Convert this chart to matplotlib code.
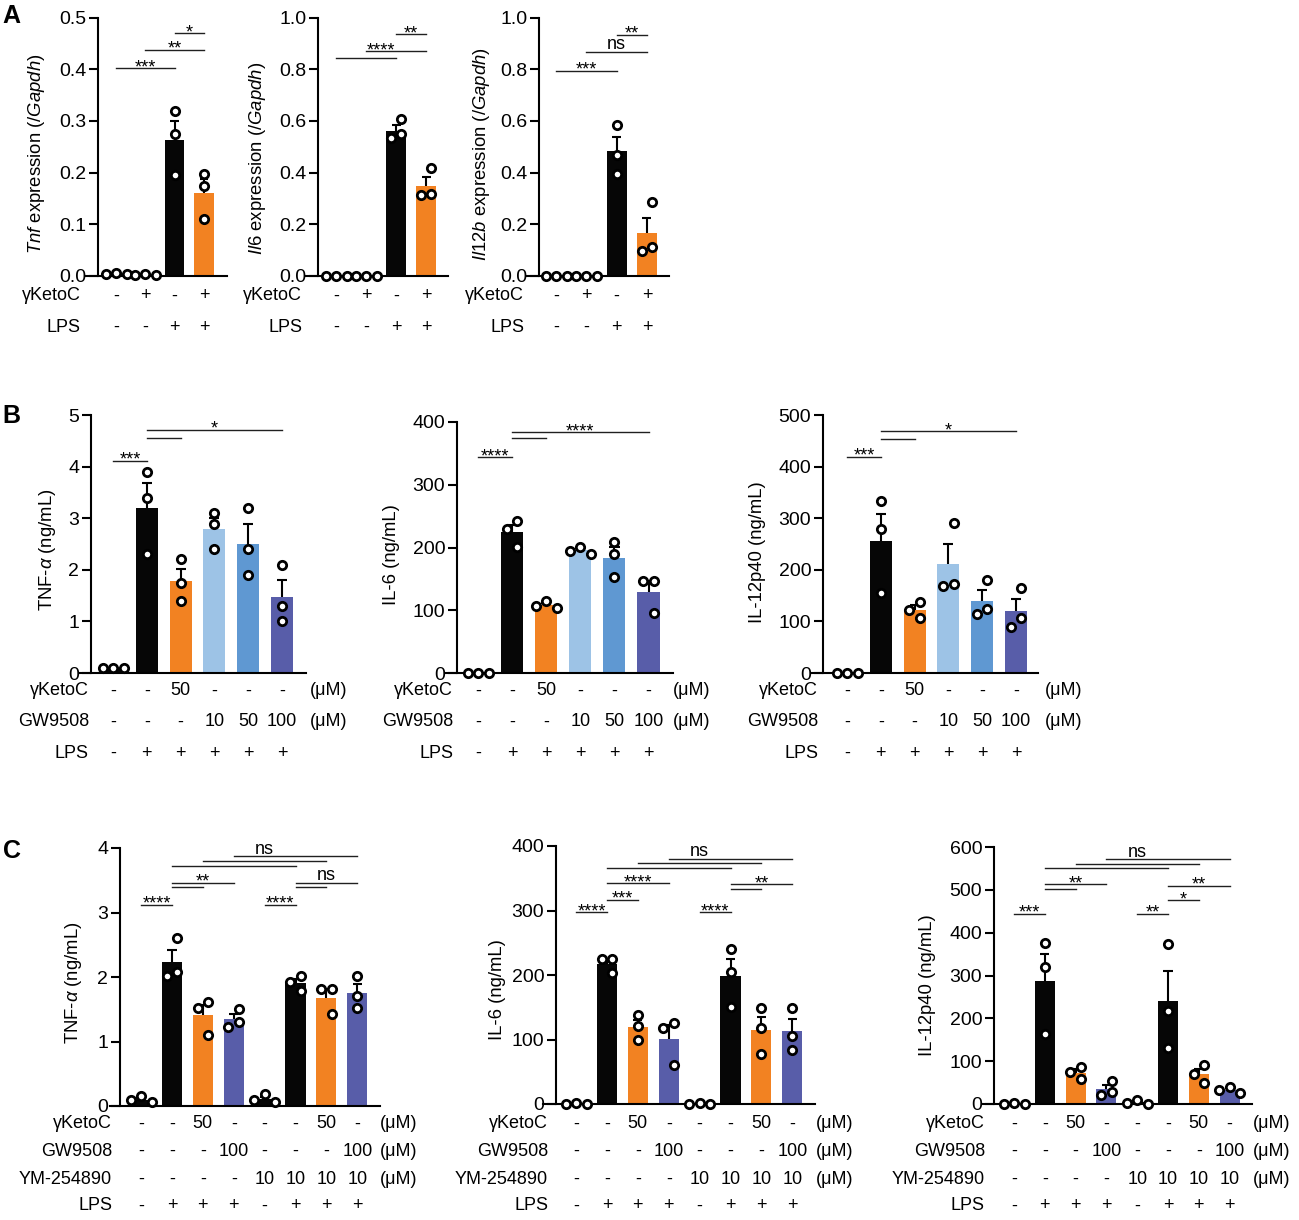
import numpy as np
import matplotlib
matplotlib.use('Agg')
import matplotlib.pyplot as plt
from matplotlib import transforms

W, H = 1299, 1220
plt.rcParams['font.family'] = ['Liberation Sans', 'DejaVu Sans']
plt.rcParams['mathtext.fontset'] = 'custom'
plt.rcParams['mathtext.it'] = 'Liberation Sans:italic'
plt.rcParams['mathtext.rm'] = 'Liberation Sans'

BLACK = '#060606'
ORANGE = '#F28222'
LBLUE = '#9DC3E6'
MBLUE = '#5F98D2'
DBLUE = '#585DA9'

# ---- panel A : qPCR, n=3 per group ----
a_tnf = [[0.006, 0.004, 0.003], [0.004, 0.002, 0.001], [0.32, 0.274, 0.195], [0.198, 0.175, 0.11]]
a_il6 = [[0, 0, 0], [0, 0, 0], [0.607, 0.548, 0.533], [0.418, 0.316, 0.312]]
a_il12b = [[0, 0, 0], [0, 0, 0], [0.585, 0.467, 0.396], [0.285, 0.113, 0.098]]
a_colors = [BLACK, BLACK, BLACK, ORANGE]
a_gk = ['-', '+', '-', '+']
a_lps = ['-', '-', '+', '+']

# ---- panel B : ELISA, GW9508 dose ----
b_tnf = [[0.1, 0.1, 0.1], [3.9, 3.4, 2.3], [2.2, 1.75, 1.39], [3.1, 2.88, 2.41], [3.2, 2.4, 1.9], [2.1, 1.3, 1.0]]
b_il6 = [[0, 0, 0], [242, 230, 201], [114, 106, 103], [201, 195, 190], [209, 189, 153], [146, 146, 95]]
b_il12 = [[0, 0, 0], [334, 279, 156], [138, 123, 106], [290, 173, 169], [181, 125, 114], [164, 106, 90]]
b_colors = [BLACK, BLACK, ORANGE, LBLUE, MBLUE, DBLUE]
b_gk = ['-', '-', '50', '-', '-', '-']
b_gw = ['-', '-', '-', '10', '50', '100']
b_lps = ['-', '+', '+', '+', '+', '+']

# ---- panel C : ELISA with YM-254890 ----
c_tnf = [[0.15, 0.09, 0.06], [2.6, 2.07, 2.02], [1.62, 1.52, 1.1], [1.51, 1.31, 1.23],
         [0.18, 0.09, 0.06], [2.01, 1.93, 1.78], [1.81, 1.81, 1.42], [2.02, 1.7, 1.52]]
c_il6 = [[1, 0, 0], [225, 225, 203], [138, 121, 99], [126, 118, 60],
         [1, 0, 0], [240, 204, 150], [149, 118, 78], [149, 106, 83]]
c_il12 = [[3, 1, 0], [377, 319, 163], [86, 75, 59], [54, 28, 22],
          [10, 2, 0], [373, 216, 130], [90, 70, 49], [40, 33, 26]]
c_colors = [BLACK, BLACK, ORANGE, DBLUE, BLACK, BLACK, ORANGE, DBLUE]
c_gk = ['-', '-', '50', '-', '-', '-', '50', '-']
c_gw = ['-', '-', '-', '100', '-', '-', '-', '100']
c_ym = ['-', '-', '-', '-', '10', '10', '10', '10']
c_lps = ['-', '+', '+', '+', '-', '+', '+', '+']

# significance: lines (i, j, y) and labels (x, y, text)
sig = {
    'a1': ([(0, 2, 0.402), (1, 3, 0.438), (2, 3, 0.47)],
           [(1, 0.402, '***'), (2, 0.438, '**'), (2.5, 0.47, '*')]),
    'a2': ([(0, 2, 0.843), (1, 3, 0.869), (2, 3, 0.936)],
           [(1.5, 0.869, '****'), (2.5, 0.936, '**')]),
    'a3': ([(0, 2, 0.794), (1, 3, 0.868), (2, 3, 0.934)],
           [(1, 0.794, '***'), (2, 0.868, 'ns'), (2.5, 0.934, '**')]),
    'b1': ([(0, 1, 4.11), (1, 2, 4.55), (1, 5, 4.71)],
           [(0.5, 4.11, '***'), (3, 4.71, '*')]),
    'b2': ([(0, 1, 344), (1, 2, 374), (1, 5, 384)],
           [(0.5, 344, '****'), (3, 384, '****')]),
    'b3': ([(0, 1, 419), (1, 2, 454), (1, 5, 469)],
           [(0.5, 419, '***'), (3, 469, '*')]),
    'c1': ([(0, 1, 3.12), (1, 2, 3.40), (1, 3, 3.46), (1, 5, 3.72), (2, 6, 3.80), (3, 7, 3.875),
            (4, 5, 3.12), (5, 6, 3.40), (5, 7, 3.46)],
           [(0.5, 3.12, '****'), (2, 3.46, '**'), (4, 3.875, 'ns'), (4.5, 3.12, '****'), (6, 3.46, 'ns')]),
    'c2': ([(0, 1, 297), (1, 2, 317), (1, 3, 342), (1, 5, 366), (2, 6, 373), (3, 7, 380),
            (4, 5, 297), (5, 6, 334), (5, 7, 341)],
           [(0.5, 297, '****'), (1.5, 317, '***'), (2, 342, '****'), (4, 380, 'ns'),
            (4.5, 297, '****'), (6, 341, '**')]),
    'c3': ([(0, 1, 444), (1, 2, 503), (1, 3, 513), (1, 5, 550), (2, 6, 560), (3, 7, 571),
            (4, 5, 444), (5, 6, 476), (5, 7, 509)],
           [(0.5, 444, '***'), (2, 513, '**'), (4, 571, 'ns'), (4.5, 444, '**'),
            (5.5, 476, '*'), (6, 509, '**')]),
}

fig = plt.figure(figsize=(W / 100, H / 100), dpi=100)
FS = 13
TFS = 14
LW = 1.5
DOT = 10.5   # marker outer diameter, px


def fy(y):
    return 1 - y / H


def swarm(ax, xc, vals, d):
    # greedy beeswarm in pixel space, then the group is centred on the bar
    t = ax.transData
    ppx = t.transform((1, 0))[0] - t.transform((0, 0))[0]
    placed = []
    offs = [0.0] * len(vals)
    for i in sorted(range(len(vals)), key=lambda k: -vals[k]):
        yp = t.transform((0, vals[i]))[1]
        for k in [0, -0.5, 0.5, -1, 1, -1.5, 1.5, -2, 2]:
            xp = k * d
            if all((xp - a) ** 2 + (yp - b) ** 2 >= (0.98 * d) ** 2 for a, b in placed):
                break
        placed.append((xp, yp))
        offs[i] = xp
    shift = (max(offs) + min(offs)) / 2
    return [xc + (o - shift) / ppx for o in offs]


def panel(box, groups, colors, ymax, ystep, fmt, key, bw=0.65):
    x0, x1, ytop, ybot, bar0, step, spine = box
    ax = fig.add_axes([x0 / W, fy(ybot), (x1 - x0) / W, (ybot - ytop) / H])
    ax.set_xlim((x0 - bar0) / step, (x1 - bar0) / step)
    ax.set_ylim(0, ymax)
    ax.spines['left'].set_position(('data', (spine - bar0) / step))
    for s in ['top', 'right']:
        ax.spines[s].set_visible(False)
    for s in ['left', 'bottom']:
        ax.spines[s].set_linewidth(LW)
    ax.set_xticks([])
    yt = np.arange(0, ymax + ystep / 2, ystep)
    ax.set_yticks(yt)
    ax.set_yticklabels([fmt.format(v) for v in yt])
    ax.tick_params(axis='y', direction='out', length=6.5, width=LW, pad=2, labelsize=TFS)
    ax.patch.set_visible(False)

    n = len(groups)
    means = [np.mean(g) for g in groups]
    sems = [np.std(g, ddof=1) / np.sqrt(len(g)) for g in groups]
    xs = np.arange(n)
    ax.bar(xs, means, width=bw, color=colors, linewidth=0, zorder=2)
    for x, m, s in zip(xs, means, sems):
        ax.vlines(x, m, m + s, color='black', lw=LW, zorder=3)
        ax.hlines(m + s, x - 0.15, x + 0.15, color='black', lw=LW, zorder=3)
    for x, g in zip(xs, groups):
        px = swarm(ax, x, g, DOT)
        ax.plot(px, g, 'o', ms=6.0, mfc='white', mec='black', mew=2.0, zorder=4, clip_on=False)

    lines, labels = sig[key]
    for i, j, y in lines:
        ax.plot([i, j], [y, y], color='#202020', lw=1.0, clip_on=False, zorder=5)
    for x, y, txt in labels:
        dy = -4 if '*' in txt else 2.5
        tr = transforms.offset_copy(ax.transData, fig=fig, x=0, y=dy, units='dots')
        ax.text(x, y, txt, transform=tr, ha='center', va='baseline', fontsize=FS, clip_on=False)
    return ax


def rows(ax, items, label_x, unit_x=None):
    bt = transforms.blended_transform_factory(ax.transData, fig.transFigure)
    for label, vals, y, unit in items:
        fig.text(label_x / W, fy(y), label, ha='right', va='center', fontsize=FS)
        for i, v in enumerate(vals):
            ax.text(i, fy(y), v, transform=bt, ha='center', va='center', fontsize=FS)
        if unit:
            fig.text(unit_x / W, fy(y), '(μM)', ha='left', va='center', fontsize=FS)


def ylab(x, y, txt):
    fig.text(x / W, fy(y), txt, rotation=90, ha='center', va='center', fontsize=13.3)


# ---- A ----
axA1 = panel((85, 227, 17.5, 276, 116, 29.3, 98), a_tnf, a_colors, 0.5, 0.1, '{:.1f}', 'a1', 0.66)
axA2 = panel((306, 448, 17.5, 276, 336, 30, 318), a_il6, a_colors, 1.0, 0.2, '{:.1f}', 'a2', 0.66)
axA3 = panel((527, 669, 17.5, 276, 556, 30.3, 539), a_il12b, a_colors, 1.0, 0.2, '{:.1f}', 'a3', 0.66)
for ax, lx in [(axA1, 81), (axA2, 302), (axA3, 524)]:
    rows(ax, [('γKetoC', a_gk, 296, False), ('LPS', a_lps, 327, False)], lx)
ylab(37, 154, r'$\it{Tnf}$ expression ($\it{/Gapdh}$)')
ylab(258, 158, r'$\it{Il6}$ expression ($\it{/Gapdh}$)')
ylab(481, 154, r'$\it{Il12b}$ expression ($\it{/Gapdh}$)')

# ---- B ----
axB1 = panel((79, 306, 415, 673, 113, 33.8, 91), b_tnf, b_colors, 5, 1, '{:.0f}', 'b1')
axB2 = panel((445, 673, 422, 673, 478, 34.1, 457), b_il6, b_colors, 400, 100, '{:.0f}', 'b2')
axB3 = panel((811, 1038, 415, 673, 847, 33.8, 823), b_il12, b_colors, 500, 100, '{:.0f}', 'b3')
for ax, lx, ux in [(axB1, 89, 310), (axB2, 453, 673), (axB3, 818, 1045)]:
    rows(ax, [('γKetoC', b_gk, 691, True), ('GW9508', b_gw, 722, True), ('LPS', b_lps, 753, False)], lx, ux)
ylab(48, 550, r'TNF-$\alpha$ (ng/mL)')
ylab(392, 555, 'IL-6 (ng/mL)')
ylab(757, 552, 'IL-12p40 (ng/mL)')

# ---- C ----
axC1 = panel((110, 380, 848, 1106, 141, 30.9, 120), c_tnf, c_colors, 4, 1, '{:.0f}', 'c1')
axC2 = panel((543, 815, 846, 1104, 576, 30.9, 556), c_il6, c_colors, 400, 100, '{:.0f}', 'c2')
axC3 = panel((982, 1252, 847, 1104, 1014, 30.8, 994), c_il12, c_colors, 600, 100, '{:.0f}', 'c3')
for ax, lx, ux in [(axC1, 112, 380), (axC2, 548, 816), (axC3, 985, 1253)]:
    rows(ax, [('γKetoC', c_gk, 1124, True), ('GW9508', c_gw, 1151, True),
              ('YM-254890', c_ym, 1179, True), ('LPS', c_lps, 1206, False)], lx, ux)
ylab(73, 983, r'TNF-$\alpha$ (ng/mL)')
ylab(497, 990, 'IL-6 (ng/mL)')
ylab(928, 985, 'IL-12p40 (ng/mL)')

for letter, x, y in [('A', 2, 16), ('B', 2, 416), ('C', 3, 851)]:
    fig.text(x / W, fy(y), letter, fontsize=18, fontweight='bold', ha='left', va='center')

fig.savefig('out.png', dpi=100)
